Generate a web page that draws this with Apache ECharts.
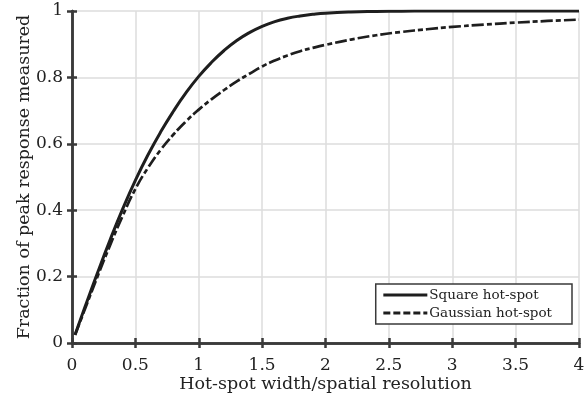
<!DOCTYPE html>
<html><head><meta charset="utf-8">
<script src="https://cdn.jsdelivr.net/npm/echarts@6/dist/echarts.min.js"></script>
<style>html,body{margin:0;padding:0;background:#fff}#c{width:584px;height:400px}</style>
</head><body><div id="c"></div>
<script>
const xValues = [0.024,0.1,0.2,0.3,0.4,0.5,0.6,0.7,0.8,0.9,1.0,1.1,1.2,1.3,1.4,1.5,1.6,1.7,1.8,1.9,2.0,2.2,2.4,2.6,2.8,3.0,3.25,3.5,3.75,4.0];
const squareVals = [0.025,0.106,0.210,0.310,0.404,0.490,0.567,0.636,0.698,0.754,0.803,0.845,0.881,0.911,0.935,0.954,0.968,0.978,0.985,0.990,0.9935,0.997,0.9985,0.9994,0.9998,1,1,1,1,1];
const gaussVals = [0.024,0.100,0.199,0.294,0.383,0.464,0.528,0.582,0.628,0.668,0.703,0.734,0.762,0.788,0.811,0.833,0.851,0.866,0.879,0.889,0.898,0.914,0.927,0.937,0.945,0.952,0.959,0.965,0.970,0.974];
const seriesNames = ['Square hot-spot','Gaussian hot-spot'];
const xLabel = 'Hot-spot width/spatial resolution';
const yLabel = 'Fraction of peak response measured';

const FONT = 'DejaVu Serif';
const axisCol = '#3a3a3a';
const txtCol = '#222';
const chart = echarts.init(document.getElementById('c'), null, {renderer:'canvas'});
const pairs = v => xValues.map((x,i)=>[x,v[i]]);
const hidden = {show:false};
chart.setOption({
  animation:false,
  backgroundColor:'#fff',
  grid:{left:72,right:5,top:11,bottom:57,containLabel:false,outerBoundsMode:'none'},
  xAxis:[{
    type:'value',min:0,max:4,interval:0.5,
    name:xLabel,nameLocation:'middle',nameGap:32,nameMoveOverlap:false,
    nameTextStyle:{fontFamily:FONT,fontSize:17.5,color:txtCol},
    axisLine:{show:true,onZero:false,lineStyle:{color:axisCol,width:2.5}},
    axisTick:{show:true,inside:true,length:5,lineStyle:{color:axisCol,width:2.5}},
    axisLabel:{fontFamily:FONT,fontSize:17,color:txtCol,margin:14,formatter:v=>String(v)},
    splitLine:{show:true,lineStyle:{color:'#dcdcdc',width:1.5}}
  },{
    type:'value',min:0,max:4,interval:0.5,position:'top',
    axisLine:{show:true,lineStyle:{color:axisCol,width:2.5}},
    axisTick:{show:true,inside:true,length:5,lineStyle:{color:axisCol,width:2.5}},
    axisLabel:hidden,splitLine:hidden
  }],
  yAxis:[{
    type:'value',min:0,max:1,interval:0.2,
    name:yLabel,nameLocation:'middle',nameGap:39,nameMoveOverlap:false,
    nameTextStyle:{fontFamily:FONT,fontSize:17.5,color:txtCol},
    axisLine:{show:true,onZero:false,lineStyle:{color:axisCol,width:2.5}},
    axisTick:{show:true,inside:true,length:5,lineStyle:{color:axisCol,width:2.5}},
    axisLabel:{fontFamily:FONT,fontSize:17,color:txtCol,margin:9,formatter:v=>String(v)},
    splitLine:{show:true,lineStyle:{color:'#dcdcdc',width:1.5}}
  },{
    type:'value',min:0,max:1,interval:0.2,position:'right',
    axisLine:{show:true,lineStyle:{color:axisCol,width:2.5}},
    axisTick:{show:true,inside:true,length:5,lineStyle:{color:axisCol,width:2.5}},
    axisLabel:hidden,splitLine:hidden
  }],
  legend:{
    data:[
      {name:seriesNames[0],lineStyle:{width:3.2,type:'solid'}},
      {name:seriesNames[1],lineStyle:{width:2.8,type:[7,3]}}
    ],
    orient:'vertical',right:12,bottom:76,
    itemWidth:44,itemHeight:2,itemGap:4,
    itemStyle:{opacity:0},
    borderColor:axisCol,borderWidth:1.5,padding:[4,20,4,6],backgroundColor:'#fff',
    textStyle:{fontFamily:FONT,fontSize:13.5,color:txtCol,padding:[0,0,0,-3]}
  },
  series:[{
    name:seriesNames[0],type:'line',data:pairs(squareVals),smooth:true,symbol:'none',
    lineStyle:{color:'#1e1e1e',width:3,type:'solid'},itemStyle:{color:'#1e1e1e'}
  },{
    name:seriesNames[1],type:'line',data:pairs(gaussVals),smooth:true,symbol:'none',
    lineStyle:{color:'#1e1e1e',width:2.7,type:[12,3,5,3]},itemStyle:{color:'#1e1e1e'}
  }]
});
</script></body></html>
